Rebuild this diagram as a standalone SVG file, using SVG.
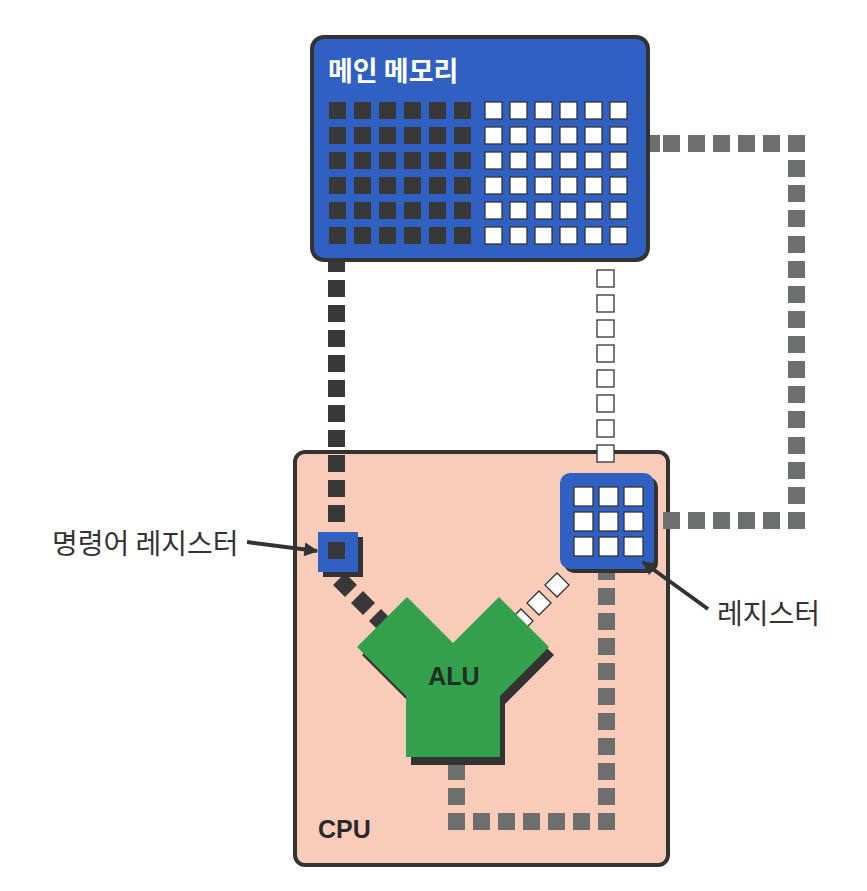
<svg xmlns="http://www.w3.org/2000/svg" width="867" height="891" viewBox="0 0 867 891">
<style>
.box{stroke:#333;stroke-width:4}
.blue{fill:#2f60c2}
.dk{fill:#383838}
.wh{fill:#fff;stroke:#333;stroke-width:1.3}
.gr{fill:#6c6f6e}
.sh{fill:#333}
.ko{font-family:"Noto Sans CJK KR","Noto Sans",sans-serif;font-size:28px;fill:#333}
.en{font-family:"Liberation Sans",Arial,sans-serif;font-size:25px;font-weight:bold}
.ptr{stroke:#333;stroke-width:4;fill:none}
</style>
<defs>
<marker id="arr" viewBox="0 0 10 10" refX="9" refY="5" markerWidth="16" markerHeight="14" markerUnits="userSpaceOnUse" orient="auto">
<path d="M0,0 L10,5 L0,10 z" fill="#333"/>
</marker>
<rect id="g" width="17" height="17" class="gr"/>
<rect id="d" width="17" height="17" class="dk"/>
<rect id="w" width="17" height="17" class="wh"/>
<rect id="dd" x="-8.5" y="-8.5" width="17" height="17" class="dk"/>
<rect id="wd" x="-8.5" y="-8.5" width="17" height="17" class="wh"/>
</defs>
<rect width="867" height="891" fill="#fff"/>

<g id="cpu">
<rect x="295" y="452" width="373" height="413" rx="10" fill="#f8ccb8" class="box"/>
<text x="318" y="838" class="en" fill="#2a2a2a">CPU</text>
</g>

<g id="connectors">
<use href="#g" x="643" y="135"/><use href="#g" x="663" y="135"/><use href="#g" x="688" y="135"/><use href="#g" x="713" y="135"/><use href="#g" x="738" y="135"/><use href="#g" x="763" y="135"/>
<use href="#g" x="788" y="135"/><use href="#g" x="788" y="160"/><use href="#g" x="788" y="185"/><use href="#g" x="788" y="210"/><use href="#g" x="788" y="236"/><use href="#g" x="788" y="261"/><use href="#g" x="788" y="286"/><use href="#g" x="788" y="311"/><use href="#g" x="788" y="336"/><use href="#g" x="788" y="361"/><use href="#g" x="788" y="386"/><use href="#g" x="788" y="411"/><use href="#g" x="788" y="437"/><use href="#g" x="788" y="462"/><use href="#g" x="788" y="487"/><use href="#g" x="788" y="512"/>
<use href="#g" x="663" y="512"/><use href="#g" x="688" y="512"/><use href="#g" x="713" y="512"/><use href="#g" x="738" y="512"/><use href="#g" x="763" y="512"/>
<use href="#g" x="598" y="563"/><use href="#g" x="598" y="588"/><use href="#g" x="598" y="613"/><use href="#g" x="598" y="638"/><use href="#g" x="598" y="663"/><use href="#g" x="598" y="688"/><use href="#g" x="598" y="713"/><use href="#g" x="598" y="738"/><use href="#g" x="598" y="763"/><use href="#g" x="598" y="788"/><use href="#g" x="598" y="813"/>
<use href="#g" x="448" y="813"/><use href="#g" x="473" y="813"/><use href="#g" x="498" y="813"/><use href="#g" x="523" y="813"/><use href="#g" x="548" y="813"/><use href="#g" x="573" y="813"/>
<use href="#g" x="448" y="763"/><use href="#g" x="448" y="788"/>
<use href="#w" x="597" y="270"/><use href="#w" x="597" y="295"/><use href="#w" x="597" y="320"/><use href="#w" x="597" y="345"/><use href="#w" x="597" y="370"/><use href="#w" x="597" y="395"/><use href="#w" x="597" y="420"/><use href="#w" x="597" y="445"/>
<use href="#d" x="328" y="255"/><use href="#d" x="328" y="280"/><use href="#d" x="328" y="305"/><use href="#d" x="328" y="330"/><use href="#d" x="328" y="355"/><use href="#d" x="328" y="380"/><use href="#d" x="328" y="405"/><use href="#d" x="328" y="430"/><use href="#d" x="328" y="455"/><use href="#d" x="328" y="480"/><use href="#d" x="328" y="505"/>
<use href="#dd" transform="translate(345,585) rotate(45)"/><use href="#dd" transform="translate(363,603) rotate(45)"/><use href="#dd" transform="translate(381,621) rotate(45)"/>
<use href="#wd" transform="translate(557,585) rotate(45)"/><use href="#wd" transform="translate(539,603) rotate(45)"/><use href="#wd" transform="translate(521,621) rotate(45)"/>
</g>

<g id="main-memory">
<rect x="312" y="37" width="336" height="223" rx="12" class="box blue"/>
<text x="328" y="81" class="ko" style="fill:#fff;font-weight:bold;font-size:27px">메인 메모리</text>
<g>
<use href="#d" x="329" y="102"/><use href="#d" x="354" y="102"/><use href="#d" x="379" y="102"/><use href="#d" x="404" y="102"/><use href="#d" x="429" y="102"/><use href="#d" x="454" y="102"/>
<use href="#d" x="329" y="127"/><use href="#d" x="354" y="127"/><use href="#d" x="379" y="127"/><use href="#d" x="404" y="127"/><use href="#d" x="429" y="127"/><use href="#d" x="454" y="127"/>
<use href="#d" x="329" y="152"/><use href="#d" x="354" y="152"/><use href="#d" x="379" y="152"/><use href="#d" x="404" y="152"/><use href="#d" x="429" y="152"/><use href="#d" x="454" y="152"/>
<use href="#d" x="329" y="177"/><use href="#d" x="354" y="177"/><use href="#d" x="379" y="177"/><use href="#d" x="404" y="177"/><use href="#d" x="429" y="177"/><use href="#d" x="454" y="177"/>
<use href="#d" x="329" y="202"/><use href="#d" x="354" y="202"/><use href="#d" x="379" y="202"/><use href="#d" x="404" y="202"/><use href="#d" x="429" y="202"/><use href="#d" x="454" y="202"/>
<use href="#d" x="329" y="227"/><use href="#d" x="354" y="227"/><use href="#d" x="379" y="227"/><use href="#d" x="404" y="227"/><use href="#d" x="429" y="227"/><use href="#d" x="454" y="227"/>
</g>
<g>
<use href="#w" x="485" y="102"/><use href="#w" x="510" y="102"/><use href="#w" x="535" y="102"/><use href="#w" x="560" y="102"/><use href="#w" x="585" y="102"/><use href="#w" x="610" y="102"/>
<use href="#w" x="485" y="127"/><use href="#w" x="510" y="127"/><use href="#w" x="535" y="127"/><use href="#w" x="560" y="127"/><use href="#w" x="585" y="127"/><use href="#w" x="610" y="127"/>
<use href="#w" x="485" y="152"/><use href="#w" x="510" y="152"/><use href="#w" x="535" y="152"/><use href="#w" x="560" y="152"/><use href="#w" x="585" y="152"/><use href="#w" x="610" y="152"/>
<use href="#w" x="485" y="177"/><use href="#w" x="510" y="177"/><use href="#w" x="535" y="177"/><use href="#w" x="560" y="177"/><use href="#w" x="585" y="177"/><use href="#w" x="610" y="177"/>
<use href="#w" x="485" y="202"/><use href="#w" x="510" y="202"/><use href="#w" x="535" y="202"/><use href="#w" x="560" y="202"/><use href="#w" x="585" y="202"/><use href="#w" x="610" y="202"/>
<use href="#w" x="485" y="227"/><use href="#w" x="510" y="227"/><use href="#w" x="535" y="227"/><use href="#w" x="560" y="227"/><use href="#w" x="585" y="227"/><use href="#w" x="610" y="227"/>
</g>
</g>

<g id="alu">
<polygon class="sh" transform="translate(5,8)" points="357,647 407,597 453,643 499,597 549,647 500,696 500,757 406,757 406,696"/>
<polygon fill="#33a04b" points="357,647 407,597 453,643 499,597 549,647 500,696 500,757 406,757 406,696"/>
<text x="454" y="685" class="en" text-anchor="middle" fill="#1f2f22">ALU</text>
</g>

<g id="instruction-register">
<rect x="323" y="537" width="40" height="40" class="sh"/>
<rect x="318" y="532" width="40" height="40" class="blue"/>
<use href="#d" x="328" y="542"/>
</g>

<g id="register">
<rect x="564" y="477" width="94" height="96" rx="10" class="sh"/>
<rect x="560" y="473" width="94" height="96" rx="10" class="blue"/>
<rect x="574" y="487" width="19" height="19" class="wh"/><rect x="599" y="487" width="19" height="19" class="wh"/><rect x="624" y="487" width="19" height="19" class="wh"/>
<rect x="574" y="512" width="19" height="19" class="wh"/><rect x="599" y="512" width="19" height="19" class="wh"/><rect x="624" y="512" width="19" height="19" class="wh"/>
<rect x="574" y="537" width="19" height="19" class="wh"/><rect x="599" y="537" width="19" height="19" class="wh"/><rect x="624" y="537" width="19" height="19" class="wh"/>
</g>

<g id="labels">
<text x="52" y="554" class="ko">명령어 레지스터</text>
<line x1="247" y1="542" x2="317" y2="551" class="ptr" marker-end="url(#arr)"/>
<text x="717" y="624" class="ko">레지스터</text>
<line x1="708" y1="609" x2="643" y2="562" class="ptr" marker-end="url(#arr)"/>
</g>
</svg>
